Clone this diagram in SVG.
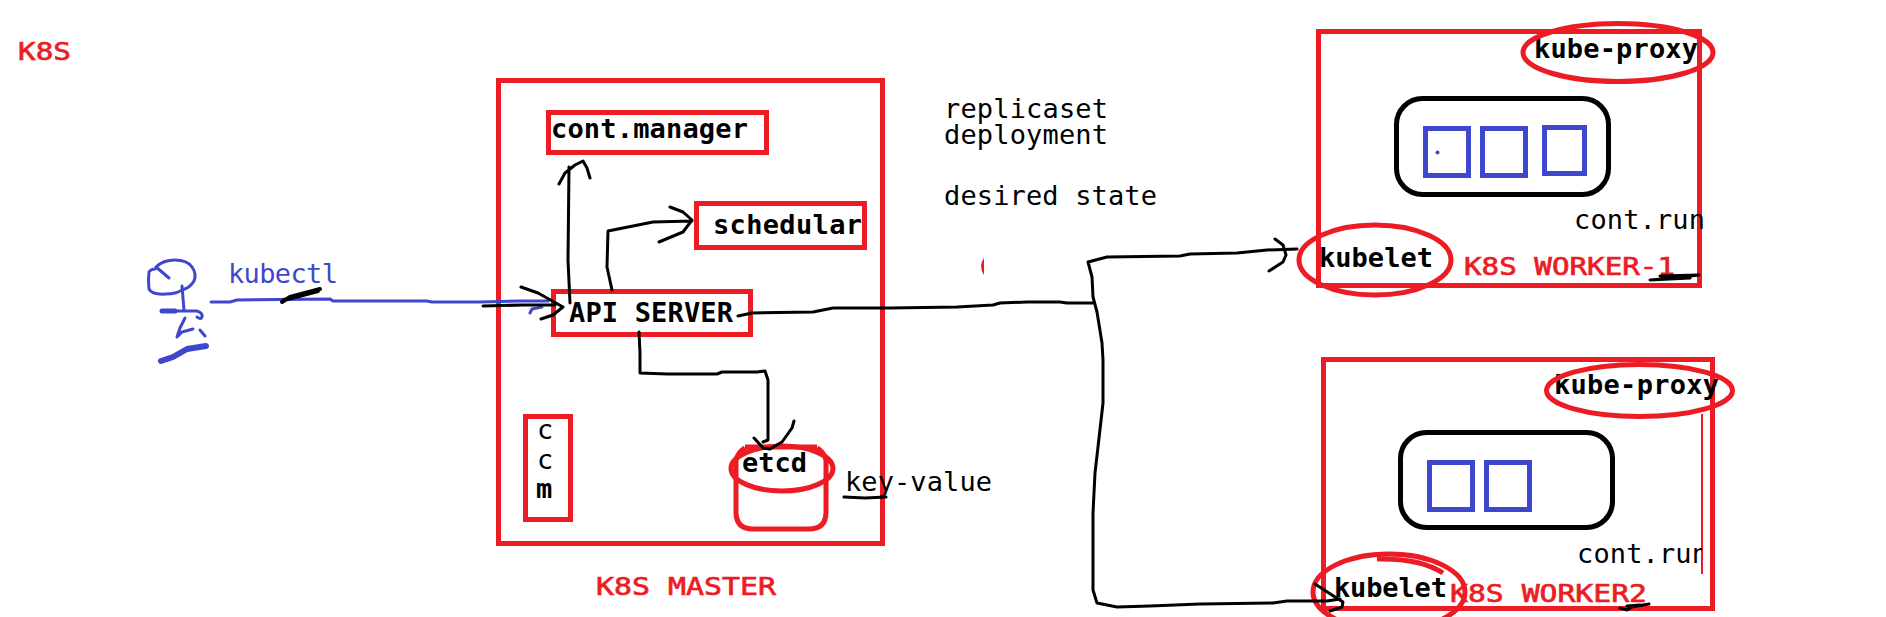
<svg xmlns="http://www.w3.org/2000/svg" width="1886" height="617" viewBox="0 0 1886 617">
<style>
.box{fill:none;stroke:#ed1c24;stroke-width:5}
.blue{fill:none;stroke:#3f48cc;stroke-width:5}
.pod{fill:none;stroke:#000;stroke-width:5}
.ink{fill:none;stroke:#000;stroke-width:3;stroke-linecap:round;stroke-linejoin:round}
.bink{fill:none;stroke:#3f48cc;stroke-width:3;stroke-linecap:round;stroke-linejoin:round}
.red{fill:none;stroke:#ed1c24;stroke-width:5}
text{font-family:"DejaVu Sans Mono","Liberation Mono",monospace;font-size:27px;fill:#000}
.b{font-weight:bold}
.r{fill:#ed1c24;font-size:25px;stroke:#ed1c24;stroke-width:.7}
.k{fill:#3f48cc}
</style>
<defs><clipPath id="clipRun"><rect x="1500" y="530" width="202" height="50"/></clipPath></defs>
<rect width="1886" height="617" fill="#fff"/>
<g id="title"><text class="r" x="18" y="60" textLength="53" lengthAdjust="spacingAndGlyphs">K8S</text></g>
<g id="user">
<path class="bink" d="M156 267Q163 260 175 260Q187 260 192 267Q197 274 194 281Q190 288 182 290Q176 294 166 294Q152 295 149 289Q148 280 149 272Q151 269 155 269M156 267L162 272L169 278"/>
<path class="bink" d="M182 286L184 310M162 311L197 311Q203 313 202 317Q201 320 197 317M185 318L180 328L177 337L182 332L193 329M200 330L205 336"/>
<path class="bink" style="stroke-width:5" d="M162 311L175 311"/>
<path class="bink" style="stroke-width:6" d="M161 361L173 357L187 349L206 346"/>
<text class="k" x="228" y="283" textLength="110">kubectl</text>
</g>
<g id="master">
<rect class="box" x="498.5" y="80.5" width="384" height="463"/>
<text class="r" x="596" y="595" textLength="180" lengthAdjust="spacingAndGlyphs">K8S MASTER</text>
</g>
<g id="controller-manager">
<rect class="box" x="548.5" y="112.5" width="218" height="40"/>
<text class="b" x="551" y="138" textLength="197">cont.manager</text>
</g>
<g id="scheduler">
<rect class="box" x="696.5" y="203.5" width="168" height="44"/>
<text class="b" x="713" y="234" textLength="149">schedular</text>
</g>
<g id="api-server">
<rect class="box" x="553.5" y="291.5" width="197" height="43"/>
<text class="b" x="569" y="322" textLength="164">API SERVER</text>
</g>
<g id="ccm">
<rect class="box" x="525.5" y="416.5" width="45" height="103"/>
<text x="537" y="439">c</text><text x="537" y="469">c</text><text class="b" x="536" y="498">m</text>
</g>
<g id="etcd">
<path class="box" d="M736 460V512Q736 529 753 529H809Q826 529 826 512V460"/>
<path class="box" d="M745 448Q738 452 736 460M817 448Q824 452 826 460M745 447H817"/>
<ellipse class="box" cx="782" cy="468.500" rx="51" ry="22.500"/>
<text class="b" x="742" y="472" textLength="65">etcd</text>
</g>
<g id="notes">
<text x="944" y="118" textLength="164">replicaset</text>
<text x="944" y="144" textLength="164">deployment</text>
<text x="944" y="205" textLength="213">desired state</text>
<text x="845" y="491" textLength="147">key-value</text>
<path class="ink" d="M844 497L865 498L886 497"/>
<path d="M984 258Q978 266 984 275Z" fill="#ed1c24"/>
</g>
<g id="worker-1">
<rect class="box" x="1318.500" y="31.500" width="381" height="254"/>
<rect class="pod" x="1396.500" y="98.500" width="212" height="96" rx="26"/>
<rect class="blue" x="1425.500" y="128.500" width="43" height="47"/>
<rect class="blue" x="1482.500" y="128.500" width="43" height="47"/>
<rect class="blue" x="1544.500" y="127.500" width="40" height="46"/>
<circle cx="1437.500" cy="152.500" r="2" fill="#3f48cc"/>
<text class="b" x="1534" y="58" textLength="164">kube-proxy</text>
<ellipse class="red" cx="1618" cy="52.500" rx="95" ry="29"/>
<text x="1574" y="229" textLength="131">cont.run</text>
<text class="b" x="1319" y="267" textLength="114">kubelet</text>
<ellipse class="red" cx="1375" cy="260" rx="76" ry="35"/>
<text class="r" x="1464" y="275" textLength="211" lengthAdjust="spacingAndGlyphs">K8S WORKER-1</text>
<path class="ink" d="M1650 280L1675 278L1699 275L1660 276M1650 280L1690 278"/>
</g>
<g id="worker-2">
<rect class="box" x="1323.500" y="359.500" width="389" height="249"/>
<rect class="pod" x="1400.500" y="432.500" width="212" height="95" rx="26"/>
<rect class="blue" x="1429.500" y="462.500" width="43" height="47"/>
<rect class="blue" x="1486.500" y="462.500" width="43" height="47"/>
<text class="b" x="1554" y="394" textLength="165">kube-proxy</text>
<ellipse class="red" cx="1639.500" cy="390.500" rx="93" ry="26"/>
<path d="M1702 414V574" fill="none" stroke="#ed1c24" stroke-width="2"/>
<text x="1577" y="563" textLength="131" clip-path="url(#clipRun)">cont.run</text>
<text class="b" x="1334" y="597" textLength="113">kubelet</text>
<ellipse class="red" cx="1389" cy="592" rx="76" ry="38"/>
<path class="red" d="M1377 559Q1420 558 1443 573"/>
<text class="r" x="1450" y="602" textLength="197" lengthAdjust="spacingAndGlyphs">K8S WORKER2</text>
<path class="ink" d="M1620 608L1627 610L1632 607L1649 604M1627 606L1640 605"/>
</g>
<g id="connectors">
<path class="bink" d="M211 302L230 302L237 300L330 299L333 301L427 301L432 302L480 302L520 301L548 301M530 313L532 309L542 307"/>
<path class="ink" style="stroke-width:4" d="M282 302L290 297L320 289M284 300L318 291"/>
<path class="ink" d="M483 306L523 305L555 305M521 287L538 293L563 307L553 315L541 319"/>
<path class="ink" d="M570 303L568 260L569 167M559 184L565 173L575 165L583 161L587 168L590 178"/>
<path class="ink" d="M612 290L607 267L608 231L623 228L653 222L692 221M670 207L683 212L692 220L683 232L659 242"/>
<path class="ink" d="M639 332L640 353L640 373L667 374L717 374L722 372L757 372L765 371L768 380L768 440L763 442M754 438L763 448L770 449L782 442L792 428L794 421"/>
<path class="ink" d="M738 316L752 313L813 312L833 308L890 308L957 307L993 305L1000 303L1027 302L1060 302L1067 303L1093 303"/>
<path class="ink" d="M1297 249L1267 250L1237 253L1190 254L1180 256L1107 257L1088 262L1092 277L1093 297L1097 312L1102 343L1103 360L1103 403L1098 447L1095 473L1093 513L1093 590L1097 603L1117 607L1150 606L1200 604L1273 603L1287 601L1327 601L1340 599"/>
<path class="ink" d="M1275 239L1283 245L1286 255L1283 262L1269 271"/>
<path class="ink" d="M1315 584L1335 597L1343 602L1342 607L1330 611"/>
</g>
</svg>
